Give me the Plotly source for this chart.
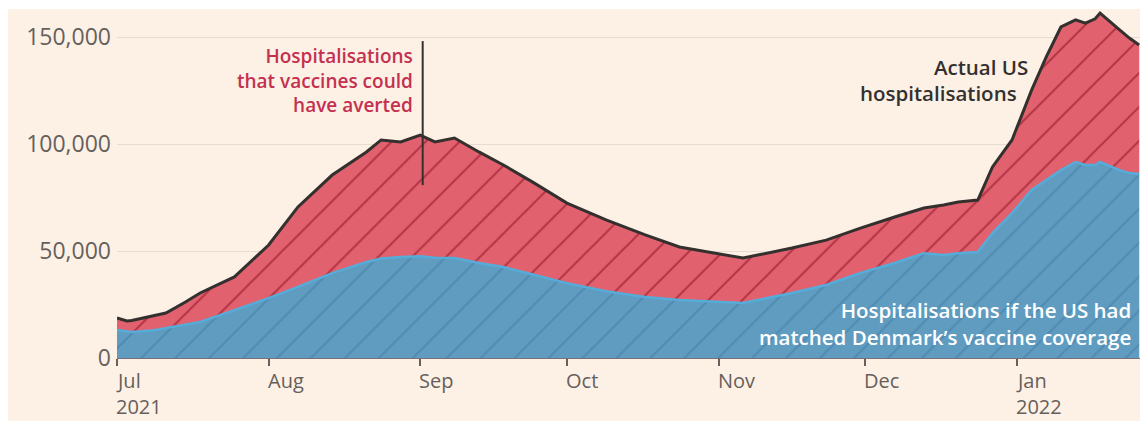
import plotly.graph_objects as go

# ---- data ----
dates = [
    "2021-07-01", "2021-07-03", "2021-07-04", "2021-07-08", "2021-07-11", "2021-07-15",
    "2021-07-18", "2021-07-25", "2021-08-01", "2021-08-07", "2021-08-14", "2021-08-21",
    "2021-08-24", "2021-08-28", "2021-09-01", "2021-09-04", "2021-09-08", "2021-09-13",
    "2021-09-18", "2021-09-24", "2021-10-01", "2021-10-09", "2021-10-17", "2021-10-24",
    "2021-10-31", "2021-11-06", "2021-11-09", "2021-11-16", "2021-11-23", "2021-11-30",
    "2021-12-07", "2021-12-13", "2021-12-17", "2021-12-20", "2021-12-24", "2021-12-27",
    "2021-12-31", "2022-01-04", "2022-01-07", "2022-01-10", "2022-01-13", "2022-01-15",
    "2022-01-17", "2022-01-18", "2022-01-22", "2022-01-24", "2022-01-26",
]
actual = [
    18700, 17300, 17500, 19500, 21000, 26200,
    30400, 37900, 52800, 70600, 85500, 96300,
    101900, 101000, 104200, 101000, 102800, 96300,
    90200, 82200, 72400, 64500, 57500, 51900,
    49000, 46700, 48100, 51400, 55100, 60700,
    65900, 70100, 71500, 72900, 73800, 89300,
    101900, 125200, 140700, 154700, 158000, 156500,
    158500, 161200, 153300, 149500, 146300,
]
denmark = [
    13100, 12500, 12100, 12800, 14000, 15500,
    16800, 22400, 28000, 33200, 39700, 44900,
    46500, 47200, 47500, 46800, 46700, 44400,
    42500, 39000, 35000, 31200, 28500, 27100,
    26200, 25700, 27100, 30400, 34100, 39700,
    44400, 49000, 48100, 49000, 49500, 58400,
    67700, 78500, 83200, 87800, 91600, 90200,
    90200, 91600, 87800, 86400, 86000,
]
y_tick_vals = [0, 50000, 100000, 150000]
y_tick_text = ["0", "50,000", "100,000", "150,000"]
month_ticks = ["2021-07-01", "2021-08-01", "2021-09-01", "2021-10-01",
               "2021-11-01", "2021-12-01", "2022-01-01"]
month_text = ["Jul", "Aug", "Sep", "Oct", "Nov", "Dec", "Jan"]
year_ticks = ["2021-07-01", "2022-01-01"]
year_text = ["2021", "2022"]

# ---- styling ----
CREAM = "#FDF1E6"
GRID = "#E8DBD0"
TXT = "#66605C"
DARK = "#33302E"
RED_FILL = "#E1616F"
RED_HATCH = "#B0303F"
BLUE_FILL = "#5F9CC0"
BLUE_HATCH = "#4F89B0"
BLUE_LINE = "#56ACD9"
FONT = "Open Sans"

W, H = 1140, 424
ML, MR, MT, MB = 117, 0, 9, 66
PW = W - ML - MR
PH = H - MT - MB

def px_x(p):
    return (p - ML) / PW

def px_y(p):
    return (H - MB - p) / PH

fig = go.Figure()

fig.add_trace(go.Scatter(
    x=dates, y=denmark, mode="lines",
    line=dict(color=BLUE_LINE, width=2.5),
    fill="tozeroy", fillcolor=BLUE_FILL,
    fillpattern=dict(shape="/", size=24, solidity=0.08,
                     fgcolor=BLUE_HATCH, bgcolor=BLUE_FILL, fillmode="replace"),
    hoverinfo="skip", showlegend=False,
))
fig.add_trace(go.Scatter(
    x=dates, y=actual, mode="lines",
    line=dict(color=DARK, width=3),
    fill="tonexty", fillcolor=RED_FILL,
    fillpattern=dict(shape="/", size=24, solidity=0.08,
                     fgcolor=RED_HATCH, bgcolor=RED_FILL, fillmode="replace"),
    hoverinfo="skip", showlegend=False,
))

# cream panel behind everything
fig.add_shape(type="rect", xref="paper", yref="paper",
              x0=px_x(8), x1=1.0, y0=px_y(421), y1=1.0,
              fillcolor=CREAM, line=dict(width=0), layer="below")

# pointer line for the averted annotation
fig.add_shape(type="line", xref="x", yref="y",
              x0="2021-09-01 12:00", x1="2021-09-01 12:00", y0=80800, y1=148100,
              line=dict(color=DARK, width=2))

annotations = []
for d, t in zip(month_ticks, month_text):
    annotations.append(dict(
        x=d, xref="x", y=px_y(380), yref="paper", text=t, xshift=-3,
        xanchor="left", yanchor="middle", align="left", showarrow=False,
        font=dict(family=FONT, size=20, color=TXT),
    ))
for d, t in zip(year_ticks, year_text):
    annotations.append(dict(
        x=d, xref="x", y=px_y(406), yref="paper", text=t, xshift=-3,
        xanchor="left", yanchor="middle", align="left", showarrow=False,
        font=dict(family=FONT, size=20, color=TXT),
    ))

annotations += [
    dict(x="2021-09-01", xref="x", y=129900, yref="y", xshift=-5,
         text="Hospitalisations<br>that vaccines could<br>have averted",
         xanchor="right", yanchor="middle", align="right", showarrow=False,
         font=dict(family=FONT, size=19, color="#C4304F", weight=600)),
    dict(x=px_x(1030), xref="paper", y=136000, yref="y", text="Actual US",
         xanchor="right", yanchor="middle", showarrow=False,
         font=dict(family=FONT, size=20.5, color=DARK, weight=600)),
    dict(x=px_x(1019), xref="paper", y=123800, yref="y", text="hospitalisations",
         xanchor="right", yanchor="middle", showarrow=False,
         font=dict(family=FONT, size=20.5, color=DARK, weight=600)),
    dict(x=px_x(1133), xref="paper", y=16100, yref="y",
         text="Hospitalisations if the US had<br>matched Denmark\u2019s vaccine coverage",
         xanchor="right", yanchor="middle", align="right", showarrow=False,
         font=dict(family=FONT, size=20.5, color="white", weight=600)),
]

fig.update_layout(
    width=W, height=H,
    margin=dict(l=ML, r=MR, t=MT, b=MB, pad=0),
    paper_bgcolor="white", plot_bgcolor=CREAM,
    annotations=annotations,
    xaxis=dict(
        type="date", range=["2021-07-01", "2022-01-26 04:00"],
        showgrid=False, zeroline=False,
        showline=True, linecolor="#7A6F78", linewidth=1,
        tickvals=month_ticks, showticklabels=False,
        ticks="outside", ticklen=7, tickwidth=1.5, tickcolor=TXT,
    ),
    yaxis=dict(
        range=[0, 163100], tickvals=y_tick_vals, ticktext=y_tick_text,
        showgrid=True, gridcolor=GRID, gridwidth=1, zeroline=False,
        ticks="", ticklabelstandoff=5,
        tickfont=dict(family=FONT, size=23, color=TXT),
    ),
)

fig.write_html(
    "out.html",
    config={"displayModeBar": False},
    post_script="document.body.style.margin='0';document.body.style.overflow='hidden';",
)
